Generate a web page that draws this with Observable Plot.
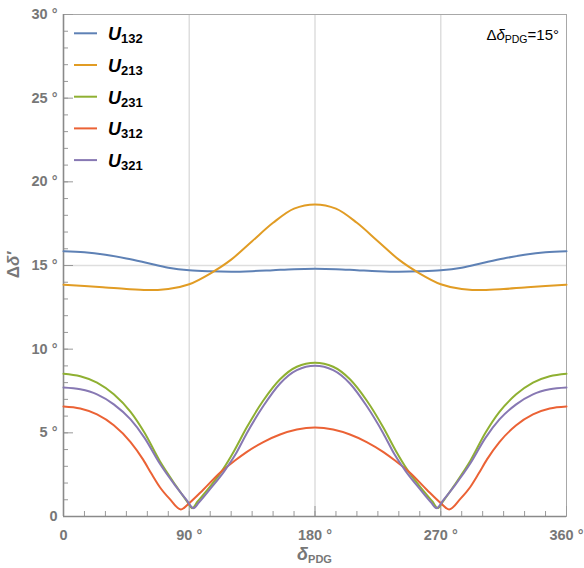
<!DOCTYPE html>
<html><head><meta charset="utf-8">
<script src="https://cdn.jsdelivr.net/npm/d3@7"></script>
<script src="https://cdn.jsdelivr.net/npm/@observablehq/plot@0.6"></script>
<style>body{margin:0;background:#fff} #chart svg{display:block}</style>
</head><body><div id="chart"></div>
<script>
// ---- data ----
const seriesNames = ["132", "213", "231", "312", "321"];
const seriesColors = ["#5E81B5", "#E19C24", "#8FB032", "#EB6235", "#8778B3"];

const deltaSmooth = [0,15,30,45,60,75,90,105,120,135,150,165,180,195,210,225,240,255,270,285,300,315,330,345,360];
const u132 = [15.85,15.79,15.64,15.42,15.15,14.87,14.71,14.65,14.63,14.66,14.72,14.78,14.8,14.78,14.72,14.66,14.63,14.65,14.71,14.87,15.15,15.42,15.64,15.79,15.85];
const u213 = [13.85,13.78,13.69,13.59,13.53,13.6,13.88,14.52,15.35,16.45,17.55,18.4,18.65,18.4,17.55,16.45,15.35,14.52,13.88,13.6,13.53,13.59,13.69,13.78,13.85];

const delta231 = [0,12,24,36,48,58,69,80,88,92,96,104,114,122,131,143,155,167,180,193,205,217,229,238,246,256,264,268,272,280,291,302,312,324,336,348,360];
const u231 = [8.53,8.38,8.0,7.3,6.25,5.0,3.3,1.9,0.95,0.5,0.9,1.7,2.8,3.9,5.3,6.93,8.2,8.95,9.19,8.95,8.2,6.93,5.3,3.9,2.8,1.7,0.9,0.5,0.95,1.9,3.3,5.0,6.25,7.3,8.0,8.38,8.53];

const delta312 = [0,12,24,36,48,57,63,69,76,84,90,100,112,122,131,143,155,167,180,193,205,217,229,238,248,260,270,276,284,291,297,303,312,324,336,348,360];
const u312 = [6.57,6.45,6.1,5.45,4.45,3.4,2.55,1.75,1.05,0.42,0.8,1.6,2.62,3.3,3.85,4.45,4.9,5.2,5.32,5.2,4.9,4.45,3.85,3.3,2.62,1.6,0.8,0.42,1.05,1.75,2.55,3.4,4.45,5.45,6.1,6.45,6.57];

const delta321 = [0,12,24,36,48,58,69,80,88,93,97,105,115,123,131,143,155,167,180,193,205,217,229,237,245,255,263,267,272,280,291,302,312,324,336,348,360];
const u321 = [7.71,7.6,7.3,6.7,5.8,4.7,3.15,1.85,1.0,0.5,0.85,1.65,2.7,3.7,4.95,6.6,7.95,8.75,9.01,8.75,7.95,6.6,4.95,3.7,2.7,1.65,0.85,0.5,1.0,1.85,3.15,4.7,5.8,6.7,7.3,7.6,7.71];

const xTicks = [0, 90, 180, 270, 360];
const xMinorTicks = d3.range(0, 361, 15);
const yTicks = [0, 5, 10, 15, 20, 25, 30];
const yMinorTicks = d3.range(0, 31, 1);
const xGridLines = [90, 180, 270];
const yGridLines = [15];

// ---- build table ----
const seriesX = [deltaSmooth, deltaSmooth, delta231, delta312, delta321];
const seriesY = [u132, u213, u231, u312, u321];
const rows = [];
seriesNames.forEach((s, i) => seriesX[i].forEach((d, j) => rows.push({s, d, v: seriesY[i][j]})));

const W = 584, H = 568, mL = 63, mR = 18, mT = 14, mB = 52;
const plotW = W - mL - mR, plotH = H - mT - mB;
const gray = "#777";
const fontFamily = "'Liberation Sans', Arial, Helvetica, sans-serif";

const plot = Plot.plot({
  width: W, height: H,
  marginLeft: mL, marginRight: mR, marginTop: mT, marginBottom: mB,
  style: {fontFamily, background: "#fff", overflow: "visible"},
  x: {domain: [0, 360]},
  y: {domain: [0, 30]},
  color: {domain: seriesNames, range: seriesColors},
  marks: [
    Plot.ruleX(xGridLines, {stroke: "#dedede", strokeWidth: 1.5}),
    Plot.ruleY(yGridLines, {stroke: "#dedede", strokeWidth: 1.5}),
    Plot.frame({stroke: "#a8a8a8", strokeWidth: 1}),
    Plot.tickY(yMinorTicks, {y: d => d, insetRight: plotW - 5, stroke: "#999"}),
    Plot.tickY(yTicks, {y: d => d, insetRight: plotW - 10, stroke: "#999"}),
    Plot.tickX(xMinorTicks, {x: d => d, insetTop: plotH - 5, stroke: "#999"}),
    Plot.tickX(xTicks, {x: d => d, insetTop: plotH - 10, stroke: "#999"}),
    Plot.ruleX([0], {stroke: "#8a8a8a", strokeWidth: 1.6}),
    Plot.ruleY([0], {stroke: "#8a8a8a", strokeWidth: 1.6}),
    Plot.axisY({ticks: yTicks, tickSize: 0, tickPadding: 6, label: null,
      tickFormat: d => d === 0 ? "0" : d + " °", fontSize: 14.5, fontWeight: "bold", fill: gray}),
    Plot.axisX({ticks: xTicks, tickSize: 0, tickPadding: 13, label: null,
      tickFormat: d => d === 0 ? "0" : d + " °", fontSize: 14.5, fontWeight: "bold", fill: gray}),
    Plot.line(rows, {x: "d", y: "v", z: "s", stroke: "s", strokeWidth: 2, curve: "monotone-x"})
  ]
});
document.getElementById("chart").appendChild(plot);

// ---- annotations with subscripts ----
const svg = d3.select(plot);
const xs = plot.scale("x"), ys = plot.scale("y");

// legend
const lg = svg.append("g").attr("font-family", fontFamily).attr("text-anchor", "start");
seriesNames.forEach((s, i) => {
  const y = 33.3 + i * 31.7;
  lg.append("line").attr("x1", 74).attr("x2", 97).attr("y1", y).attr("y2", y)
    .attr("stroke", seriesColors[i]).attr("stroke-width", 2);
  const t = lg.append("text").attr("x", 108).attr("y", y + 7)
    .attr("font-size", 18).attr("font-weight", "bold").attr("fill", "#000");
  t.append("tspan").attr("font-style", "italic").text("U");
  t.append("tspan").attr("font-size", 13).attr("dy", 3).text(s);
});

// top-right annotation
const ann = svg.append("text").attr("x", 559).attr("y", 40).attr("text-anchor", "end")
  .attr("font-family", fontFamily).attr("font-size", 15).attr("fill", "#000");
ann.append("tspan").text("Δ");
ann.append("tspan").attr("font-style", "italic").text("δ");
ann.append("tspan").attr("font-size", 10.5).attr("dy", 3).text("PDG");
ann.append("tspan").attr("dy", -3).text("=15°");

// x-axis label
const xl = svg.append("text").attr("x", xs.apply(180)).attr("y", 560).attr("text-anchor", "middle")
  .attr("font-family", fontFamily).attr("font-weight", "bold").attr("fill", gray).attr("font-size", 18);
xl.append("tspan").attr("font-style", "italic").text("δ");
xl.append("tspan").attr("font-size", 11).attr("dy", 3).text("PDG");

// y-axis label
const yl = svg.append("text").attr("transform", `translate(19,${ys.apply(15)}) rotate(-90)`)
  .attr("text-anchor", "middle").attr("font-family", fontFamily).attr("font-weight", "bold")
  .attr("fill", gray).attr("font-size", 17);
yl.append("tspan").text("Δ");
yl.append("tspan").attr("font-style", "italic").text("δ′");
</script>
</body></html>
